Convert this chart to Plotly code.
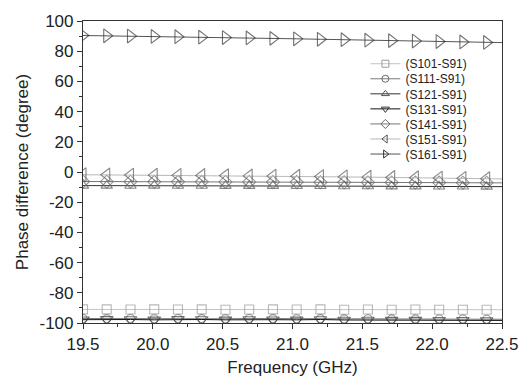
import plotly.graph_objects as go

freq = [19.5, 19.67, 19.84, 20.01, 20.18, 20.35, 20.52, 20.69, 20.86, 21.03,
        21.20, 21.37, 21.54, 21.71, 21.88, 22.05, 22.22, 22.39, 22.5]

s101 = [-91.0, -91.0, -91.1, -91.0, -91.1, -91.0, -91.2, -91.1, -91.0, -91.1,
        -91.0, -91.2, -91.1, -91.2, -91.1, -91.2, -91.2, -91.2, -91.2]
s111 = [-97.0, -97.1, -97.0, -97.2, -97.0, -97.1, -97.2, -97.0, -97.1, -97.2,
        -97.1, -97.3, -97.2, -97.3, -97.3, -97.4, -97.4, -97.5, -97.5]
s121 = [-9.0, -9.0, -9.1, -9.0, -9.1, -9.1, -9.2, -9.2, -9.2, -9.3,
        -9.3, -9.4, -9.4, -9.5, -9.5, -9.6, -9.6, -9.7, -9.7]
s131 = [-97.8, -97.6, -97.7, -97.9, -97.6, -97.7, -97.9, -97.7, -97.8, -97.9,
        -97.7, -98.0, -98.0, -98.1, -98.1, -98.2, -98.2, -98.3, -98.3]
s141 = [-6.3, -6.4, -6.4, -6.5, -6.5, -6.5, -6.6, -6.6, -6.7, -6.7,
        -6.8, -6.8, -6.9, -6.9, -7.0, -7.0, -7.1, -7.1, -7.2]
s151 = [-1.8, -1.9, -2.0, -2.1, -2.2, -2.3, -2.4, -2.6, -2.7, -2.8,
        -3.0, -3.2, -3.4, -3.6, -3.8, -4.0, -4.2, -4.4, -4.6]
s161 = [90.4, 90.2, 90.0, 89.8, 89.6, 89.3, 89.0, 88.8, 88.5, 88.2,
        87.9, 87.6, 87.3, 87.0, 86.7, 86.4, 86.1, 85.8, 85.7]

names = ["(S101-S91)", "(S111-S91)", "(S121-S91)", "(S131-S91)",
         "(S141-S91)", "(S151-S91)", "(S161-S91)"]

y_tickvals = [100, 80, 60, 40, 20, 0, -20, -40, -60, -80, -100]
y_ticktext = ["100", "80", "60", "40", "20", "0", "-20", "-40", "-60", "-80", "-100"]

series = [s101, s111, s121, s131, s141, s151, s161]
symbols = ["square-open", "circle-open", "triangle-up-open", "triangle-down-open",
           "diamond-open", "triangle-left-open", "triangle-right-open"]
line_colors = ["#c4c4c4", "#7a7a7a", "#333333", "#111111", "#777777", "#b8b8b8", "#555555"]
marker_colors = ["#9a9a9a", "#6a6a6a", "#555555", "#333333", "#6a6a6a", "#555555", "#333333"]
marker_sizes = [9, 8, 10, 11, 10, 12, 12]

fig = go.Figure()

for i, (nm, ys) in enumerate(zip(names, series)):
    sizes = [marker_sizes[i]] * (len(freq) - 1) + [0]
    fig.add_trace(go.Scatter(
        x=freq, y=ys, mode="lines+markers", name=nm, showlegend=False,
        line=dict(color=line_colors[i], width=1),
        marker=dict(symbol=symbols[i], size=sizes, color=marker_colors[i],
                    line=dict(width=1.1, color=marker_colors[i])),
    ))

# legend entries (one small legend per entry for tight row spacing)
plot_top, plot_bottom = 15, 326
row_px = [59, 74.5, 90, 105.5, 121, 136.5, 152]
layout_legends = {}
for i, nm in enumerate(names):
    key = "legend" if i == 0 else f"legend{i+1}"
    fig.add_trace(go.Scatter(
        x=[None], y=[None], mode="lines+markers", name=nm, legend=key,
        line=dict(color=line_colors[i], width=1),
        marker=dict(symbol=symbols[i], size=7, color=marker_colors[i],
                    line=dict(width=1, color=marker_colors[i])),
    ))
    yp = (plot_bottom - row_px[i]) / (plot_bottom - plot_top)
    layout_legends[key] = dict(
        x=0.674, y=yp, xanchor="left", yanchor="middle",
        bgcolor="rgba(0,0,0,0)", borderwidth=0,
        font=dict(family="Liberation Sans, Arial, sans-serif", size=12, color="#222222"),
        itemwidth=30,
    )

axis_common = dict(
    showline=True, linecolor="#333333", linewidth=1.2, mirror=True,
    showgrid=False, zeroline=False, ticks="outside", ticklen=5, tickwidth=1,
    tickcolor="#333333",
    tickfont=dict(family="Liberation Sans, Arial, sans-serif", size=17, color="#222222"),
)

fig.update_layout(
    width=531, height=385,
    margin=dict(l=83, r=20, t=15, b=59),
    paper_bgcolor="white", plot_bgcolor="white",
    xaxis=dict(range=[19.5, 22.5], dtick=0.5, tick0=19.5, tickformat=".1f",
               minor=dict(dtick=0.25, ticks="outside", ticklen=3, tickcolor="#333333"),
               title=dict(text="Frequency (GHz)", standoff=8,
                          font=dict(family="Liberation Sans, Arial, sans-serif", size=17, color="#222222")),
               **axis_common),
    yaxis=dict(range=[-100, 100], tickmode="array", tickvals=y_tickvals, ticktext=y_ticktext,
               minor=dict(dtick=10, tick0=0, ticks="outside", ticklen=3, tickcolor="#333333"),
               title=dict(text="Phase difference (degree)", standoff=6,
                          font=dict(family="Liberation Sans, Arial, sans-serif", size=17, color="#222222")),
               **axis_common),
    **layout_legends,
)

fig.write_html("out.html")
